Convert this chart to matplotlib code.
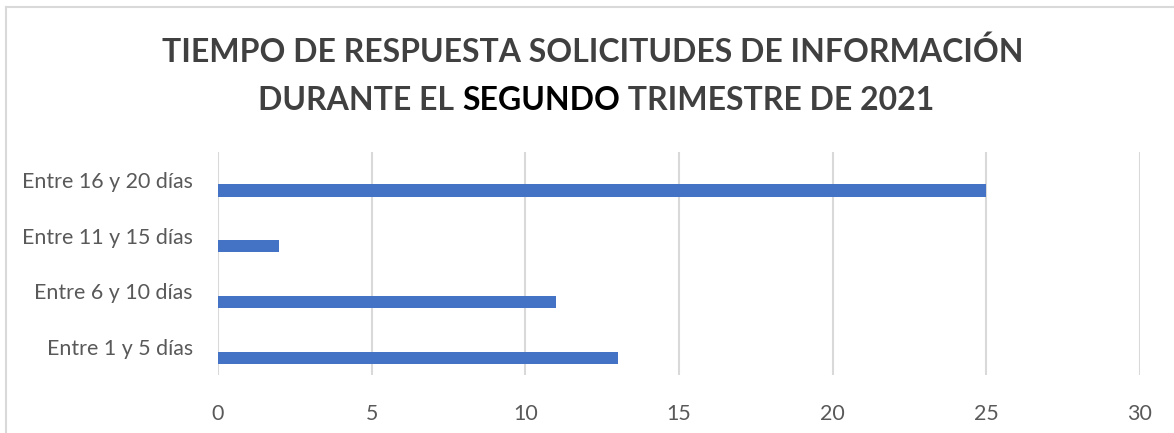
import matplotlib
matplotlib.use("Agg")
import matplotlib.pyplot as plt
from matplotlib.lines import Line2D

# data
categorias = ["Entre 1 y 5 días", "Entre 6 y 10 días", "Entre 11 y 15 días", "Entre 16 y 20 días"]
valores = [13, 11, 2, 25]
ticks_x = [0, 5, 10, 15, 20, 25, 30]

azul = "#4472C4"
gris_txt = "#595959"
gris_titulo = "#404040"
gris_linea = "#d9d9d9"

plt.rcParams["font.family"] = ["Lato", "DejaVu Sans"]

fig = plt.figure(figsize=(11.74, 4.33), dpi=100)
ax = fig.add_axes([218 / 1174, 1 - 375 / 433, (1140 - 218) / 1174, (375 - 152) / 433])

pos = list(range(len(categorias)))
# bars sit a bit below the category centre, like in the original
ax.barh([p - 0.19 for p in pos], valores, height=0.22, color=azul, zorder=3)

ax.set_xlim(0, 30)
ax.set_ylim(-0.5, len(categorias) - 0.5)
ax.set_xticks(ticks_x)
ax.set_yticks(pos)
ax.set_yticklabels(categorias)
ax.tick_params(axis="both", length=0, labelsize=15.4, colors=gris_txt)
ax.tick_params(axis="x", pad=21)
ax.tick_params(axis="y", pad=18)
ax.grid(axis="x", color=gris_linea, linewidth=1.5, zorder=0)
for s in ax.spines.values():
    s.set_visible(False)

# outer border (left and top only visible)
fig.add_artist(Line2D([5.5 / 1174, 5.5 / 1174], [0, 1 - 7 / 433], color=gris_linea, linewidth=1.5))
fig.add_artist(Line2D([5.5 / 1174, 1], [1 - 7 / 433, 1 - 7 / 433], color=gris_linea, linewidth=1.5))

# title
fs_titulo = 23.0
fig.text(593 / 1174, 1 - 52 / 433, "TIEMPO DE RESPUESTA SOLICITUDES DE INFORMACIÓN",
         ha="center", va="center", fontsize=fs_titulo, fontweight="bold", color=gris_titulo)

partes = [("DURANTE EL ", gris_titulo), ("SEGUNDO", "black"), (" TRIMESTRE DE 2021", gris_titulo)]
r = fig.canvas.get_renderer()
textos = []
for t, c in partes:
    txt = fig.text(0, 1 - 100 / 433, t, ha="left", va="center", fontsize=fs_titulo,
                   fontweight="bold", color=c)
    textos.append(txt)
anchos = [txt.get_window_extent(r).width for txt in textos]
x0 = 596 - sum(anchos) / 2
for txt, w in zip(textos, anchos):
    txt.set_x(x0 / 1174)
    x0 += w

fig.savefig("out.png", dpi=100)
